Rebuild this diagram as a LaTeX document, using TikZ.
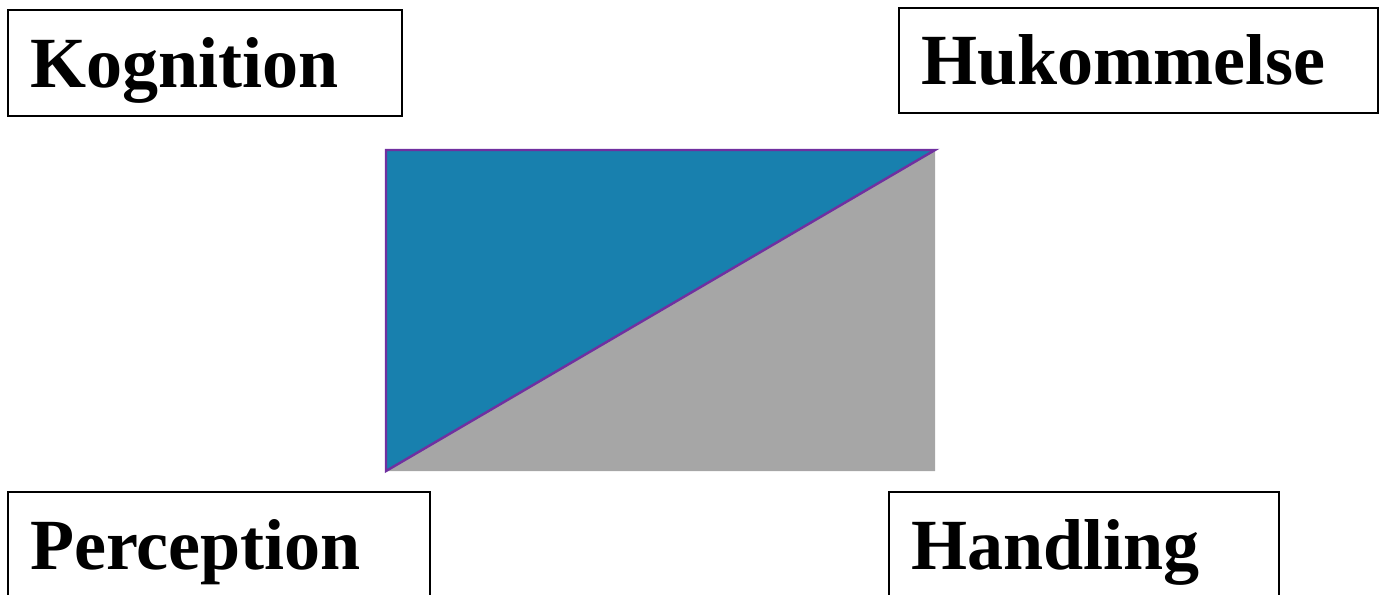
\documentclass[tikz,border=0pt]{standalone}
\usepackage{fontspec}
\setmainfont{Liberation Serif}
\usepackage{tikz}
\usetikzlibrary{positioning}

\definecolor{triblue}{HTML}{1880AE}
\definecolor{trigray}{HTML}{A6A6A6}
\definecolor{triedge}{HTML}{7030A0}

\begin{document}
\begin{tikzpicture}[
    labelbox/.style={
        rectangle, draw=black, line width=1.1pt,
        inner xsep=0.44cm, minimum height=2.12cm,
        text height=1.20cm, text depth=0.24cm,
        align=left, font=\fontsize{41pt}{48pt}\selectfont\bfseries
    },
    edge/.style={draw=triedge, line width=1.4pt, line join=miter}
]

% --- Page frame ---
\clip (0,0) rectangle (27.64,-11.88);

% --- Labels in the four corners ---
\node[labelbox, text width=7.00cm] (kognition) at (4.10, -1.26) {Kognition};
\node[labelbox, text width=8.70cm, minimum height=2.10cm] (hukommelse) at (22.77, -1.21) {Hukommelse};
\node[labelbox, text width=7.56cm] (perception) at (4.38, -10.90) {Perception};
\node[labelbox, text width=6.92cm] (handling) at (21.68, -10.90) {Handling};

% --- Split rectangle ---
\coordinate (nw) at (7.72, -3.00);
\coordinate (ne) at (18.70, -3.00);
\coordinate (sw) at (7.72, -9.42);
\coordinate (se) at (18.70, -9.42);

\fill[trigray] (sw) -- (ne) -- (se) -- cycle;
\fill[triblue] (nw) -- (ne) -- (sw) -- cycle;
\draw[edge] (nw) -- (ne) -- (sw) -- cycle;

\end{tikzpicture}
\end{document}
